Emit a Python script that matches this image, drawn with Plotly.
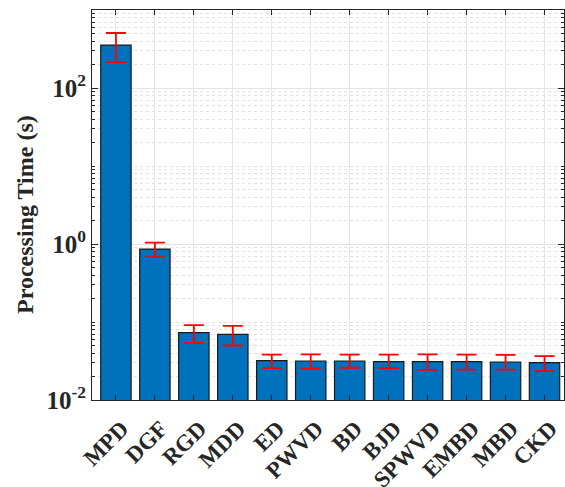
import plotly.graph_objects as go

categories = ["MPD", "DGF", "RGD", "MDD", "ED", "PWVD", "BD", "BJD", "SPWVD", "EMBD", "MBD", "CKD"]
mean_time = [355, 0.86, 0.073, 0.0695, 0.0319, 0.0316, 0.0316, 0.0310, 0.0310, 0.0310, 0.0307, 0.0301]
upper_err = [152, 0.18, 0.018, 0.0195, 0.0062, 0.0069, 0.0066, 0.0071, 0.0075, 0.0071, 0.0071, 0.0065]
lower_err = [140, 0.18, 0.019, 0.0195, 0.0062, 0.0064, 0.0057, 0.0053, 0.0067, 0.0065, 0.0062, 0.0066]
y_label = "Processing Time (s)"

x_pos = list(range(1, len(categories) + 1))

FONT = "Times New Roman, Liberation Serif, serif"

fig = go.Figure()
fig.add_trace(go.Bar(
    x=x_pos,
    y=mean_time,
    width=0.78,
    marker=dict(color="#0072BD", line=dict(color="#1a1a1a", width=1.2)),
    error_y=dict(
        type="data",
        symmetric=False,
        array=upper_err,
        arrayminus=lower_err,
        color="#FF0000",
        thickness=1.8,
        width=10,
    ),
    showlegend=False,
))

# minor grid positions on log axis
minor_vals = []
for e in range(-2, 3):
    for m in range(2, 10):
        minor_vals.append(m * 10 ** e)
minor_vals += [0.1, 10, 1000]

fig.update_layout(
    width=565,
    height=487,
    margin=dict(l=92, r=1, t=10, b=87),
    paper_bgcolor="white",
    plot_bgcolor="white",
    bargap=0.2,
    font=dict(family=FONT, color="#262626"),
    xaxis=dict(
        automargin=False,
        tickmode="array",
        tickvals=x_pos,
        ticktext=[f"<b>{c}</b>" for c in categories],
        tickangle=-45,
        tickfont=dict(family=FONT, size=23, color="#262626"),
        ticklabelstandoff=5,
        ticklabelshift=6,
        range=[0.386, 12.5],
        showline=True,
        linecolor="#262626",
        linewidth=1,
        mirror="ticks",
        ticks="inside",
        ticklen=5,
        tickcolor="#262626",
        showgrid=True,
        gridcolor="#e6e6e6",
        gridwidth=1,
        zeroline=False,
    ),
    yaxis=dict(
        automargin=False,
        type="log",
        range=[-2, 3],
        tickmode="array",
        tickvals=[0.01, 1, 100],
        ticktext=["<b>10<sup>-2</sup></b>", "<b>10<sup>0</sup></b>", "<b>10<sup>2</sup></b>"],
        tickfont=dict(family=FONT, size=25, color="#262626"),
        showline=True,
        linecolor="#262626",
        linewidth=1,
        mirror="allticks",
        ticks="inside",
        ticklen=6,
        tickcolor="#262626",
        showgrid=True,
        gridcolor="#e3e3e3",
        gridwidth=1,
        zeroline=False,
        minor=dict(
            tickmode="array",
            tickvals=minor_vals,
            ticks="inside",
            ticklen=3,
            tickcolor="#262626",
            showgrid=True,
            gridcolor="#e2e2e2",
            griddash="dot",
            gridwidth=1,
        ),
    ),
    annotations=[dict(
        text=f"<b>{y_label}</b>",
        xref="paper", yref="paper",
        x=-0.142, y=0.477,
        xanchor="center", yanchor="middle",
        textangle=-90,
        showarrow=False,
        font=dict(family=FONT, size=24, color="#262626"),
    )],
)

fig.write_html("out.html", config={"displayModeBar": False},
               post_script="document.body.style.margin='0';")
